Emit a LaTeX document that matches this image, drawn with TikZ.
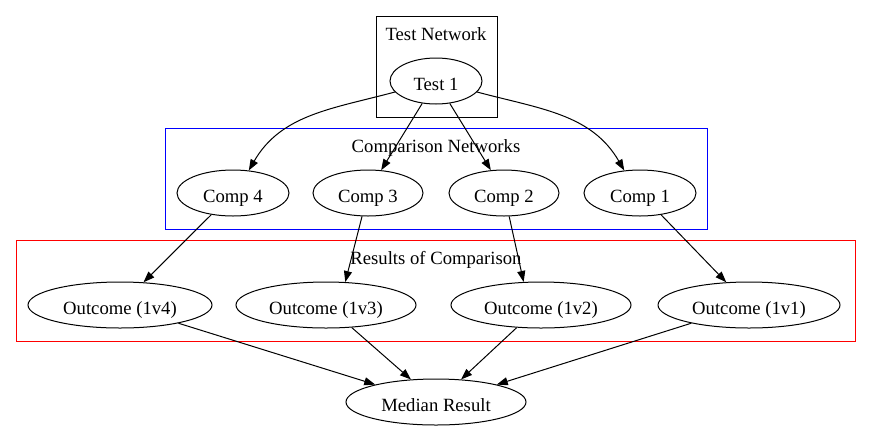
\documentclass[tikz,border=0pt]{standalone}
\usepackage{fontspec}
\setmainfont{Liberation Serif}
\usetikzlibrary{shapes.geometric,arrows.meta}
\begin{document}
\begin{tikzpicture}[x=1pt,y=-1pt,
  every node/.style={font=\fontsize{18.67}{22}\selectfont},
  ell/.style={draw,ellipse,inner sep=0pt,minimum height=46pt,line width=1pt,text height=19pt,text depth=0pt},
  lab/.style={anchor=base},
  clus/.style={draw,line width=1pt},
  arr/.style={-{Triangle[length=11pt,width=8pt]},line width=1pt}]
\useasboundingbox (0,0) rectangle (872,432);
% clusters
\draw[clus] (376,16) rectangle (497,117);
\node[lab] (lt) at (436,40.5) {Test Network};
\draw[clus,blue] (165,128) rectangle (707,229);
\node[lab] (lc) at (436,152.5) {Comparison Networks};
\draw[clus,red] (16,240) rectangle (855,341);
\node[lab] (lr) at (436,264.5) {Results of Comparison};
% nodes
\node[ell,minimum width=92pt] (t1) at (436,81) {Test 1};
\node[ell,minimum width=112pt] (c4) at (233,193) {Comp 4};
\node[ell,minimum width=110pt] (c3) at (368,193) {Comp 3};
\node[ell,minimum width=110pt] (c2) at (504,193) {Comp 2};
\node[ell,minimum width=112pt] (c1) at (640,193) {Comp 1};
\node[ell,minimum width=184pt] (o4) at (120,305) {Outcome (1v4)};
\node[ell,minimum width=180pt] (o3) at (326,305) {Outcome (1v3)};
\node[ell,minimum width=180pt] (o2) at (541,305) {Outcome (1v2)};
\node[ell,minimum width=182pt] (o1) at (749,305) {Outcome (1v1)};
\node[ell,minimum width=180pt] (m) at (436,402) {Median Result};
% edges
\draw[arr] (t1.195) to[out=195,in=60] (c4.55);
\draw[arr] (t1.345) to[out=-15,in=120] (c1.125);
\draw[arr] (t1) -- (c3.60);
\draw[arr] (t1) -- (c2.120);
\draw[arr] (c4) -- (o4.44);
\draw[arr] (c3) -- (o3.50);
\draw[arr] (c2) -- (o2.127);
\draw[arr] (c1) -- (o1.135);
\draw[arr] (o4) -- (m.164);
\draw[arr] (o3) -- (m.138);
\draw[arr] (o2) -- (m.42);
\draw[arr] (o1) -- (m.16);
\end{tikzpicture}
\end{document}
